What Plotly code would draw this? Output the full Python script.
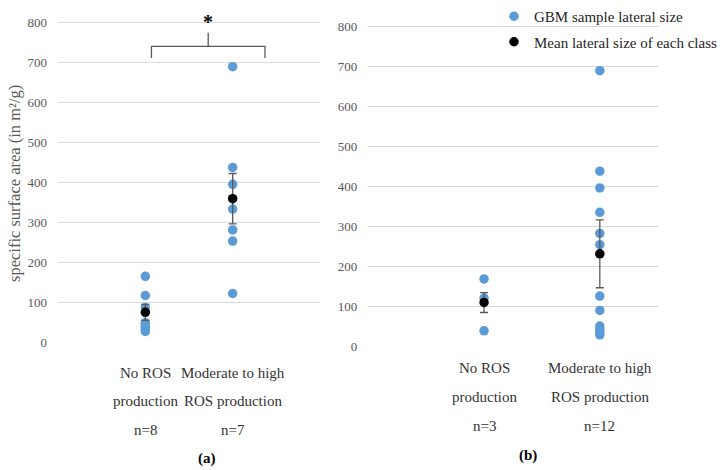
import plotly.graph_objects as go

# ---------------- data ----------------
class_pos = [1, 2]  # class index on the x axis
label_line1 = ["No ROS", "Moderate to high"]
label_line2 = ["production", "ROS production"]
n_a = ["n=8", "n=7"]
n_b = ["n=3", "n=12"]

samples_a_none = [166, 118, 88, 50, 45, 40, 34, 28]
samples_a_mod = [690, 438, 396, 334, 282, 254, 123]
mean_a = [76, 360]
err_a = [20, 63]

samples_b_none = [168, 120, 38]
samples_b_mod = [690, 438, 396, 335, 282, 254, 125, 89, 50, 42, 35, 28]
mean_b = [109, 231]
err_b = [25, 85]

y_ticks = [0, 100, 200, 300, 400, 500, 600, 700, 800]

# significance bracket (panel a), in axis units
brk_x = [1.07, 2.37]
brk_mid = 1.72
brk_y = 741
brk_end = 712
brk_top = 775
star_y = 801

# ---------------- style ----------------
BLUE = "#5B9BD5"
GRID = "#D9D9D9"
GREY = "#595959"
SERIF = "Liberation Serif"
W, H = 723, 470

fig = go.Figure()


def add_panel(xa, ya, s_none, s_mod, means, errs, legend):
    xs = [class_pos[0]] * len(s_none) + [class_pos[1]] * len(s_mod)
    ys = list(s_none) + list(s_mod)
    fig.add_trace(go.Scatter(
        x=xs, y=ys, mode="markers", xaxis=xa, yaxis=ya,
        marker=dict(color=BLUE, size=9.5),
        name="GBM sample lateral size", showlegend=legend,
        legendgroup="s", hoverinfo="skip"))
    fig.add_trace(go.Scatter(
        x=class_pos, y=means, mode="markers", xaxis=xa, yaxis=ya,
        marker=dict(color="black", size=9.5),
        error_y=dict(type="data", array=errs, visible=True,
                     color=GREY, thickness=1.3, width=4),
        name="Mean lateral size of each class", showlegend=legend,
        legendgroup="m", hoverinfo="skip"))


add_panel("x", "y", samples_a_none, samples_a_mod, mean_a, err_a, True)
add_panel("x2", "y2", samples_b_none, samples_b_mod, mean_b, err_b, False)

yaxis_common = dict(
    tickvals=y_ticks, showgrid=True, gridcolor=GRID, gridwidth=1.3,
    zeroline=False, showline=False, ticks="",
    ticklabelstandoff=10,
    tickfont=dict(family=SERIF, size=13, color=GREY), fixedrange=True)
xaxis_common = dict(showgrid=False, zeroline=False, showline=False,
                    showticklabels=False, ticks="", fixedrange=True)

fig.update_layout(
    width=W, height=H,
    margin=dict(l=0, r=0, t=0, b=0, autoexpand=False),
    paper_bgcolor="white", plot_bgcolor="white",
    hovermode=False,
    xaxis=dict(domain=[58 / W, 320 / W], range=[0, 3], **xaxis_common),
    yaxis=dict(domain=[(H - 342.7) / H, (H - 2.7) / H], range=[0, 850],
               **yaxis_common),
    xaxis2=dict(domain=[368.3 / W, 657.7 / W], range=[0, 2.5],
                anchor="y2", **xaxis_common),
    yaxis2=dict(domain=[(H - 346) / H, (H - 6.8) / H], range=[0, 850],
                anchor="x2", **yaxis_common),
    legend=dict(x=494 / W, y=1.0, xanchor="left", yanchor="top",
                font=dict(family=SERIF, size=15, color="#262626"),
                bgcolor="rgba(0,0,0,0)", tracegroupgap=3,
                itemclick=False, itemdoubleclick=False),
)

# significance bracket
fig.add_shape(type="path", xref="x", yref="y",
              path=f"M {brk_x[0]} {brk_end} L {brk_x[0]} {brk_y} "
                   f"L {brk_x[1]} {brk_y} L {brk_x[1]} {brk_end}",
              line=dict(color=GREY, width=1.3))
fig.add_shape(type="line", xref="x", yref="y",
              x0=brk_mid, x1=brk_mid, y0=brk_y, y1=brk_top,
              line=dict(color=GREY, width=1.3))
fig.add_annotation(x=brk_mid, y=star_y, xref="x", yref="y", text="<b>*</b>",
                   showarrow=False, yanchor="middle",
                   font=dict(family=SERIF, size=20, color="black"))

# category labels
ann_font = dict(family=SERIF, size=15, color="#333333")
rows_a = [372.5, 400.5, 430.3]
rows_b = [368.3, 396.7, 426]
for xr, rows, ns in (("x", rows_a, n_a), ("x2", rows_b, n_b)):
    for i, xp in enumerate(class_pos):
        for txt, ypx in zip([label_line1[i], label_line2[i], ns[i]], rows):
            fig.add_annotation(x=xp, y=1 - ypx / H, xref=xr, yref="paper",
                               text=txt, showarrow=False, yanchor="middle",
                               font=ann_font)

# y axis title (panel a)
fig.add_annotation(x=14 / W, y=1 - 184 / H, xref="paper", yref="paper",
                   text="specific surface area (in m²/g)", textangle=-90,
                   showarrow=False, xanchor="center", yanchor="middle",
                   font=dict(family=SERIF, size=16.5, color=GREY))

# panel letters
fig.add_annotation(x=207 / W, y=1 - 458.7 / H, xref="paper", yref="paper",
                   text="<b>(a)</b>", showarrow=False,
                   xanchor="center", yanchor="middle",
                   font=dict(family=SERIF, size=15, color="black"))
fig.add_annotation(x=528 / W, y=1 - 455.3 / H, xref="paper", yref="paper",
                   text="<b>(b)</b>", showarrow=False,
                   xanchor="center", yanchor="middle",
                   font=dict(family=SERIF, size=15, color="black"))

fig.write_html("out.html", config={"displayModeBar": False},
               post_script="document.body.style.margin='0';")
